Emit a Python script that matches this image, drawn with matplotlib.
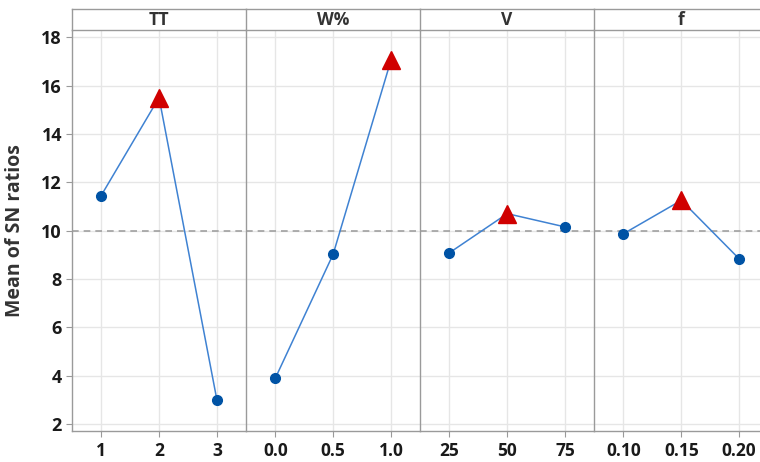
import matplotlib
matplotlib.use("Agg")
import matplotlib.pyplot as plt
import numpy as np

# === DATA ===
factors = ["TT", "W%", "V", "f"]
levels_tt = ["1", "2", "3"]
levels_w = ["0.0", "0.5", "1.0"]
levels_v = ["25", "50", "75"]
levels_f = ["0.10", "0.15", "0.20"]
sn_tt = [11.45, 15.5, 3.0]
sn_w = [3.89, 9.02, 17.05]
sn_v = [9.08, 10.7, 10.15]
sn_f = [9.87, 11.25, 8.83]
grand_mean = 9.98

levels = [levels_tt, levels_w, levels_v, levels_f]
values = [sn_tt, sn_w, sn_v, sn_f]

# === STYLE ===
plt.rcParams['font.family'] = ['Open Sans', 'DejaVu Sans']
SPINE = '#9a9a9a'
GRID = '#e6e6e6'
LINE = '#3f82d2'
DOT = '#0053a5'
TRI = '#d00000'
TXT = '#1a1a1a'

fig = plt.figure(figsize=(7.6, 4.62), dpi=100)
W, H = 760.0, 462.0
left_px = 71.7
panel_px = 174.1
bottom_px = 430.7
top_px = 29.7
head_top_px = 9.0

for i, (labs, vals) in enumerate(zip(levels, values)):
    x0 = (left_px + i * panel_px) / W
    ax = fig.add_axes([x0, (H - bottom_px) / H, panel_px / W, (bottom_px - top_px) / H])
    xs = np.arange(len(vals))
    ax.set_xlim(-0.51, 2.5)
    ax.set_ylim(1.72, 18.31)
    ax.set_yticks([2, 4, 6, 8, 10, 12, 14, 16, 18])
    ax.set_xticks(xs)
    ax.set_xticklabels(labs, fontsize=12.5, fontweight='bold', color=TXT)
    ax.grid(True, color=GRID, lw=1.0)
    ax.set_axisbelow(True)
    for s in ax.spines.values():
        s.set_color(SPINE)
        s.set_linewidth(1.0)
    ax.spines['top'].set_visible(False)
    if i < 3:
        ax.spines['right'].set_visible(False)
    ax.tick_params(axis='x', colors=SPINE, length=4, pad=4, labelcolor=TXT)
    if i == 0:
        ax.tick_params(axis='y', colors=SPINE, length=4, pad=3, labelcolor=TXT, labelsize=13)
        for t in ax.get_yticklabels():
            t.set_fontweight('bold')
        ax.set_ylabel('Mean of SN ratios', fontsize=14, fontweight='bold', color='#333333')
        ax.yaxis.set_label_coords(-0.268, 0.5)
    else:
        ax.tick_params(axis='y', length=0, labelleft=False)

    ax.axhline(grand_mean, color='#a0a0a0', lw=1.2, ls=(0, (4, 3)), zorder=2)
    ax.plot(xs, vals, color=LINE, lw=1.1, zorder=3)
    best = int(np.argmax(vals))
    for k, v in enumerate(vals):
        if k == best:
            ax.plot(k, v, marker='^', ms=13.5, color=TRI, mec=TRI, zorder=4)
        else:
            ax.plot(k, v, marker='o', ms=7, color=DOT, mec=DOT, zorder=4)

    # header strip
    hx = fig.add_axes([x0, (H - top_px) / H, panel_px / W, (top_px - head_top_px) / H])
    hx.set_xticks([])
    hx.set_yticks([])
    for s in hx.spines.values():
        s.set_color(SPINE)
        s.set_linewidth(1.0)
    if i < 3:
        hx.spines['right'].set_visible(False)
    hx.text(0.5, 0.45, factors[i], ha='center', va='center', fontsize=12.5,
            fontweight='bold', color='#333333', transform=hx.transAxes)

fig.savefig('out.png', dpi=100)
